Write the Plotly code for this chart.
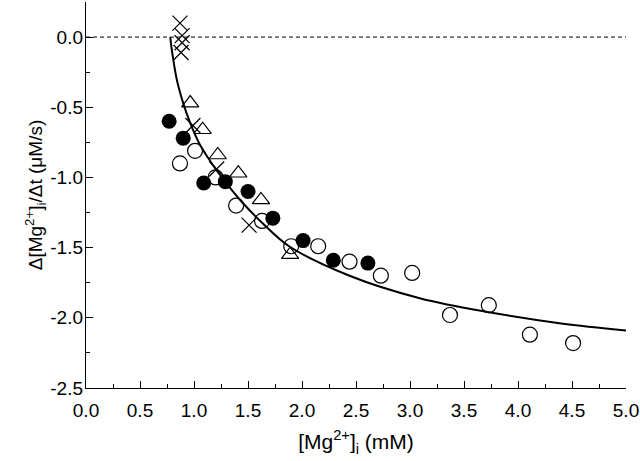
import plotly.graph_objects as go

# ---- data ----
cross_x = [0.87, 0.89, 0.89, 0.88, 0.99, 1.21, 1.51]
cross_y = [0.10, 0.01, -0.04, -0.11, -0.63, -0.94, -1.34]

tri_x = [0.965, 1.08, 1.22, 1.41, 1.62, 1.89]
tri_y = [-0.47, -0.66, -0.84, -0.97, -1.16, -1.55]

filled_x = [0.77, 0.90, 1.09, 1.29, 1.50, 1.73, 2.01, 2.29, 2.61]
filled_y = [-0.60, -0.72, -1.04, -1.03, -1.10, -1.29, -1.45, -1.59, -1.61]

open_x = [0.87, 1.01, 1.20, 1.39, 1.63, 1.90, 2.15, 2.44, 2.73, 3.02, 3.37, 3.73, 4.11, 4.51]
open_y = [-0.90, -0.81, -1.00, -1.20, -1.31, -1.49, -1.49, -1.60, -1.70, -1.68, -1.98, -1.91, -2.12, -2.18]

curve_x = [0.78, 0.80, 0.84, 0.88, 0.93, 0.99, 1.05, 1.13, 1.21, 1.33, 1.45, 1.64, 1.88, 2.44, 3.09, 3.73, 4.40, 5.00]
curve_y = [0.00, -0.12, -0.30, -0.42, -0.54, -0.66, -0.76, -0.86, -0.95, -1.07, -1.18, -1.33, -1.49, -1.70, -1.86, -1.96, -2.04, -2.09]

zero_x = [0.0, 5.0]
zero_y = [0.0, 0.0]

x_ticks = [0.0, 0.5, 1.0, 1.5, 2.0, 2.5, 3.0, 3.5, 4.0, 4.5, 5.0]
x_ticktext = ["0.0", "0.5", "1.0", "1.5", "2.0", "2.5", "3.0", "3.5", "4.0", "4.5", "5.0"]
y_ticks = [0.0, -0.5, -1.0, -1.5, -2.0, -2.5]
y_ticktext = ["0.0", "-0.5", "-1.0", "-1.5", "-2.0", "-2.5"]

FONT = "Liberation Sans, Arial, sans-serif"

fig = go.Figure()

fig.add_trace(go.Scatter(x=zero_x, y=zero_y, mode="lines",
                         line=dict(color="black", width=1, dash="4px,3px"),
                         hoverinfo="skip", showlegend=False))

fig.add_trace(go.Scatter(x=open_x, y=open_y, mode="markers",
                         marker=dict(symbol="circle-open", size=15, color="black",
                                     line=dict(width=1.2, color="black")),
                         showlegend=False))

fig.add_trace(go.Scatter(x=tri_x, y=tri_y, mode="markers",
                         marker=dict(symbol="triangle-up-open", size=15, color="black",
                                     line=dict(width=1.2, color="black")),
                         showlegend=False))

fig.add_trace(go.Scatter(x=cross_x, y=cross_y, mode="markers",
                         marker=dict(symbol="x-thin-open", size=15, color="black",
                                     line=dict(width=1.2, color="black")),
                         showlegend=False))

fig.add_trace(go.Scatter(x=filled_x, y=filled_y, mode="markers",
                         marker=dict(symbol="circle", size=15, color="black",
                                     line=dict(width=0)),
                         showlegend=False))

fig.add_trace(go.Scatter(x=curve_x, y=curve_y, mode="lines",
                         line=dict(color="black", width=2, shape="spline", smoothing=1),
                         showlegend=False))

tick_font = dict(family=FONT, size=19, color="black")

fig.update_xaxes(range=[0, 5], tickvals=x_ticks, ticktext=x_ticktext,
                 ticks="inside", ticklen=7, tickwidth=1, tickcolor="black",
                 minor=dict(ticks="inside", ticklen=4, dtick=0.25, tickcolor="black", tickwidth=1, showgrid=False),
                 showline=True, linecolor="black", linewidth=1.2,
                 showgrid=False, zeroline=False, tickfont=tick_font, automargin=False,
                 ticklabelstandoff=5,
                 title=dict(text="[Mg<sup>2+</sup>]<sub>i</sub> (mM)",
                            font=dict(family=FONT, size=21, color="black"),
                            standoff=14))

fig.update_yaxes(range=[-2.5, 0.25], tickvals=y_ticks, ticktext=y_ticktext,
                 ticks="inside", ticklen=7, tickwidth=1, tickcolor="black",
                 minor=dict(ticks="inside", ticklen=4, dtick=0.25, tickcolor="black", tickwidth=1, showgrid=False),
                 showline=True, linecolor="black", linewidth=1.2,
                 showgrid=False, zeroline=False, tickfont=tick_font, automargin=False,
                 ticklabelstandoff=-2,
                 title=dict(text="Δ[Mg<sup>2+</sup>]<sub>i</sub>/Δt (μM/s)",
                            font=dict(family=FONT, size=19, color="black"),
                            standoff=2))

fig.update_layout(width=640, height=461,
                  margin=dict(l=86, r=14, t=2, b=73),
                  plot_bgcolor="white", paper_bgcolor="white",
                  hovermode=False)

fig.write_html("out.html",
               config={"displayModeBar": False, "staticPlot": True},
               post_script="document.body.style.margin='0';document.body.style.padding='0';")
